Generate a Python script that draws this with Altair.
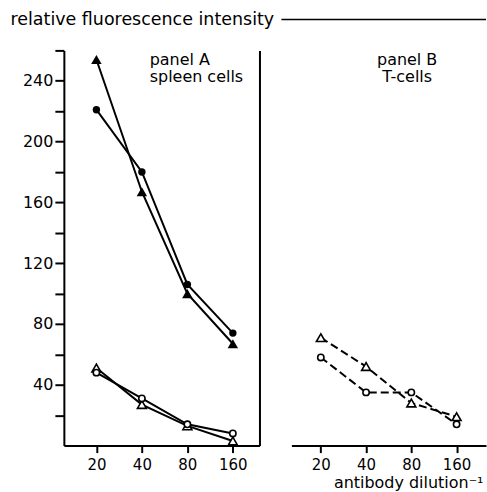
import altair as alt
import pandas as pd

# ---------------- data ----------------
dilutions = ["20", "40", "80", "160"]

a_filled_triangle = [254, 167, 100, 67]
a_filled_circle = [221, 180, 106, 74]
a_open_triangle = [51, 27, 13, 3]
a_open_circle = [48, 31, 14, 8]

b_open_triangle = [71, 52, 28, 19]
b_open_circle = [58, 35, 35, 14]

y_ticks = [20, 40, 60, 80, 100, 120, 140, 160, 180, 200, 220, 240, 260]

panel_a_label = ["panel A", "spleen cells"]
panel_b_label = ["panel B", "T-cells"]
y_title = "relative fluorescence intensity"
x_title = "antibody dilution\u207b\u00b9"

FONT = "DejaVu Sans"
W_A, W_B, H = 196, 195, 396


def table(series):
    rows = []
    for name, marker, vals in series:
        for d, v in zip(dilutions, vals):
            rows.append({"series": name, "marker": marker, "dilution": d, "value": v})
    return pd.DataFrame(rows)


df_a = table([
    ("A filled triangle", "ft", a_filled_triangle),
    ("A filled circle", "fc", a_filled_circle),
    ("A open triangle", "ot", a_open_triangle),
    ("A open circle", "oc", a_open_circle),
])
df_b = table([
    ("B open triangle", "ot", b_open_triangle),
    ("B open circle", "oc", b_open_circle),
])

yscale = alt.Scale(domain=[0, 260], nice=False, zero=True)


def x_enc(align, title=None, **kw):
    return alt.X(
        "dilution:O",
        sort=dilutions,
        scale=alt.Scale(type="point", padding=0.65, align=align),
        axis=alt.Axis(
            labelAngle=0, tickSize=7, labelPadding=5, labelFontSize=15,
            domainWidth=2, tickWidth=2, title=title, **kw
        ),
    )


def point_layers(base, x, markers, right_axis):
    layers = []
    specs = {
        "ft": dict(shape="triangle-up", filled=True, fill="black", size=110, strokeWidth=0),
        "fc": dict(shape="circle", filled=True, fill="black", size=55, strokeWidth=0),
        "ot": dict(shape="triangle-up", filled=True, fill="white", stroke="black", size=80, strokeWidth=1.6),
        "oc": dict(shape="circle", filled=True, fill="white", stroke="black", size=40, strokeWidth=1.6),
    }
    for i, m in enumerate(markers):
        axis = None
        if right_axis and i == 0:
            axis = alt.Axis(orient="right", labels=False, ticks=False, domain=True,
                            domainWidth=2, grid=False, title=None)
        layers.append(
            base.transform_filter(alt.datum.marker == m)
            .mark_point(opacity=1, fillOpacity=1, **specs[m])
            .encode(x=x, y=alt.Y("value:Q", scale=yscale, axis=axis))
        )
    return layers


def label_layer(lines, xpos, align):
    return alt.Chart(pd.DataFrame({"k": [0]})).mark_text(
        text=lines, align=align, baseline="alphabetic", font=FONT,
        fontSize=16, lineHeight=17, color="black"
    ).encode(x=alt.value(xpos), y=alt.value(15))


# ---------------- panel A ----------------
base_a = alt.Chart(df_a)
xa = x_enc(0.55)
lines_a = base_a.mark_line(color="black", strokeWidth=2).encode(
    x=xa,
    y=alt.Y(
        "value:Q", scale=yscale,
        axis=alt.Axis(
            values=y_ticks, tickSize=9, tickWidth=2, domainWidth=2,
            labelExpr="datum.value % 40 == 0 && datum.value < 250 ? datum.label : ''",
            labelPadding=2, labelFontSize=16, grid=False,
            title=y_title, titleAngle=0, titleAlign="left", titleBaseline="alphabetic",
            titleX=-54, titleY=-26, titleFontSize=17.5, titleFontWeight="normal",
            titleFont=FONT,
        ),
    ),
    detail="series:N",
)
title_line = alt.Chart(pd.DataFrame({"k": [0]})).mark_rule(
    color="black", strokeWidth=1.5
).encode(x=alt.value(218), x2=alt.value(423), y=alt.value(-31))

panel_a = alt.layer(
    lines_a,
    *point_layers(base_a, xa, ["ft", "fc", "ot", "oc"], right_axis=True),
    label_layer(panel_a_label, 86, "left"),
    title_line,
).resolve_axis(y="independent").properties(width=W_A, height=H)

# ---------------- panel B ----------------
base_b = alt.Chart(df_b)
xb = x_enc(0.5, title=x_title, titleX=117, titleY=42, titleAlign="center",
           titleBaseline="alphabetic", titleFontSize=16, titleFontWeight="normal",
           titleFont=FONT)
lines_b = base_b.mark_line(color="black", strokeWidth=2, strokeDash=[8, 4]).encode(
    x=xb,
    y=alt.Y(
        "value:Q", scale=yscale,
        axis=alt.Axis(values=y_ticks, tickSize=9, tickWidth=2, domainWidth=2,
                      labels=False, grid=False, title=None),
    ),
    detail="series:N",
)
panel_b = alt.layer(
    lines_b,
    *point_layers(base_b, xb, ["ot", "oc"], right_axis=False),
    label_layer(panel_b_label, 116, "center"),
).properties(width=W_B, height=H)

chart = (
    alt.hconcat(panel_a, panel_b, spacing=32, bounds="flush")
    .properties(padding={"left": 10, "top": 10, "right": 0, "bottom": 0})
    .configure_view(stroke=None)
    .configure_axis(
        domainColor="black", tickColor="black", labelColor="black",
        titleColor="black", labelFont=FONT, titleFont=FONT, grid=False,
    )
)

chart.save("out.html", embed_options={"renderer": "svg", "actions": False})
